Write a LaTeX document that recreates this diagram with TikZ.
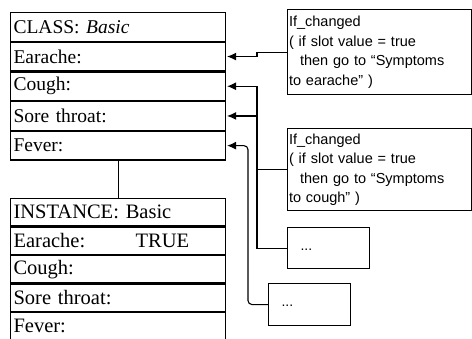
\documentclass[tikz,border=0pt]{standalone}
\usepackage{fontspec}
\setmainfont{Liberation Serif}
\newfontfamily\notefont{Liberation Sans}
\usetikzlibrary{positioning,arrows.meta}

\begin{document}
\begin{tikzpicture}[x=1pt,y=-1pt,line width=1.1pt,
  slot/.style={draw,anchor=north west,minimum width=215pt,minimum height=28.6pt,
    text width=209pt,inner xsep=3pt,inner ysep=0pt,align=left,
    font=\fontsize{19.5}{21}\selectfont},
  islot/.style={slot,minimum height=27.4pt,font=\fontsize{20.5}{22}\selectfont},
  note/.style={draw,anchor=north west,minimum width=184pt,minimum height=85pt,
    text width=181pt,inner xsep=1.5pt,inner ysep=3pt,align=left,
    font=\notefont\fontsize{14.5}{19.5}\selectfont},
  dots/.style={draw,anchor=north west,minimum width=82pt,minimum height=41pt,
    text width=56pt,inner xsep=13pt,align=left,font=\notefont\fontsize{14}{16}\selectfont},
  hook/.style={-{Latex[length=9pt,width=8pt]},shorten >=1pt}]
  \useasboundingbox (0,0) rectangle (472,338);
  % class frame
  \node[slot] (chead) at (10,12) {CLASS: \textit{Basic}};
  \node[slot,below=0pt of chead] (cear) {Earache:};
  \node[slot,below=0pt of cear] (ccough) {Cough:};
  \node[slot,below=0pt of ccough] (csore) {Sore throat:};
  \node[slot,below=0pt of csore] (cfever) {Fever:};
  % instance frame
  \node[islot] (ihead) at (10,198) {INSTANCE: Basic};
  \node[islot,below=0pt of ihead] (iear) {\makebox[122pt][l]{Earache:}TRUE};
  \node[islot,below=0pt of iear] (icough) {Cough:};
  \node[islot,below=0pt of icough] (isore) {Sore throat:};
  \node[islot,below=0pt of isore] (ifever) {Fever:};
  \draw (cfever.south) -- (ihead.north);
  % demons
  \node[note] (ifear) at (287,9) {If\_changed\\( if slot value = true\\
    \hspace*{11pt}then go to “Symptoms\\to earache” )};
  \node[note,minimum height=82pt] (ifcough) at (287,128) {If\_changed\\( if slot value = true\\
    \hspace*{11pt}then go to “Symptoms\\to cough” )};
  \node[dots] (more1) at (287,227) {\raisebox{-4pt}{...}};
  \node[dots,minimum height=42pt] (more2) at (268,283) {\raisebox{-4pt}{...}};
  \draw[hook] (ifear.west) -- ++(-30,0) |- (cear.east);
  \draw[hook] (ifcough.west) -- ++(-30,0) |- (ccough.east);
  \draw[hook] (more1.west) -- ++(-30,0) |- (csore.east);
  \draw[hook,rounded corners=4pt] (more2.west) -- ++(-20,0) |- (cfever.east);
\end{tikzpicture}
\end{document}
